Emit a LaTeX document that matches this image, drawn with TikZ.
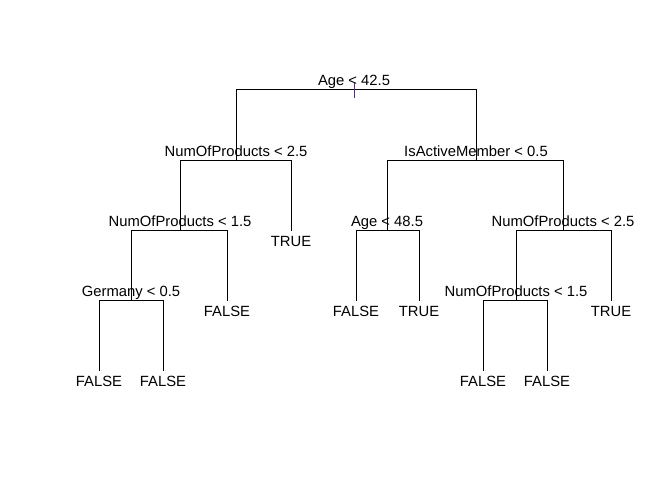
\documentclass[tikz,border=0pt]{standalone}
\usepackage{fontspec}
\setmainfont{Liberation Sans}
\definecolor{tick}{RGB}{95,40,140}
\begin{document}
\begin{tikzpicture}[x=1pt,y=-1pt,
  edge/.style={line width=1pt,black},
  split/.style={anchor=base,inner sep=0pt,font=\fontsize{14.8}{16}\selectfont},
  leaf/.style={anchor=base,inner sep=0pt,font=\fontsize{14.8}{16}\selectfont}]
\useasboundingbox (0,0) rectangle (672,480);
% node coordinates (split points)
\coordinate (r) at (354,89.5);
\coordinate (a) at (236,160.5);
\coordinate (b) at (476,160.5);
\coordinate (aa) at (180,230.5);
\coordinate (ab) at (291,230.5);
\coordinate (ba) at (387,230.5);
\coordinate (bb) at (563,230.5);
\coordinate (aaa) at (131,300.5);
\coordinate (aab) at (227,300.5);
\coordinate (baa) at (356,300.5);
\coordinate (bab) at (419,300.5);
\coordinate (bba) at (516,300.5);
\coordinate (bbb) at (611,300.5);
\coordinate (aaaa) at (99,370.5);
\coordinate (aaab) at (163,370.5);
\coordinate (bbaa) at (483,370.5);
\coordinate (bbab) at (547,370.5);
% edges
\draw[edge] (a) |- (r) -| (b);
\draw[edge] (aa) |- (a) -| (ab);
\draw[edge] (ba) |- (b) -| (bb);
\draw[edge] (aaa) |- (aa) -| (aab);
\draw[edge] (baa) |- (ba) -| (bab);
\draw[edge] (bba) |- (bb) -| (bbb);
\draw[edge] (aaaa) |- (aaa) -| (aaab);
\draw[edge] (bbaa) |- (bba) -| (bbab);
\coordinate (t1) at (354,83);
\coordinate (t2) at (354,98);
\draw[tick,line width=1pt] (t1) -- (t2);
% split labels
\node[split] (lr) at ([yshift=4.5pt]r) {Age < 42.5};
\node[split] (la) at ([yshift=4.5pt]a) {NumOfProducts < 2.5};
\node[split] (lb) at ([yshift=4.5pt]b) {IsActiveMember < 0.5};
\node[split] (laa) at ([yshift=4.5pt]aa) {NumOfProducts < 1.5};
\node[split] (lba) at ([yshift=4.5pt]ba) {Age < 48.5};
\node[split] (lbb) at ([yshift=4.5pt]bb) {NumOfProducts < 2.5};
\node[split] (laaa) at ([yshift=4.5pt]aaa) {Germany < 0.5};
\node[split] (lbba) at ([yshift=4.5pt]bba) {NumOfProducts < 1.5};
% leaf labels
\node[leaf] (fab) at ([yshift=-16pt]ab) {TRUE};
\node[leaf] (faab) at ([yshift=-16pt]aab) {FALSE};
\node[leaf] (fbaa) at ([yshift=-16pt]baa) {FALSE};
\node[leaf] (fbab) at ([yshift=-16pt]bab) {TRUE};
\node[leaf] (fbbb) at ([yshift=-16pt]bbb) {TRUE};
\node[leaf] (faaaa) at ([yshift=-16pt]aaaa) {FALSE};
\node[leaf] (faaab) at ([yshift=-16pt]aaab) {FALSE};
\node[leaf] (fbbaa) at ([yshift=-16pt]bbaa) {FALSE};
\node[leaf] (fbbab) at ([yshift=-16pt]bbab) {FALSE};
\end{tikzpicture}
\end{document}
